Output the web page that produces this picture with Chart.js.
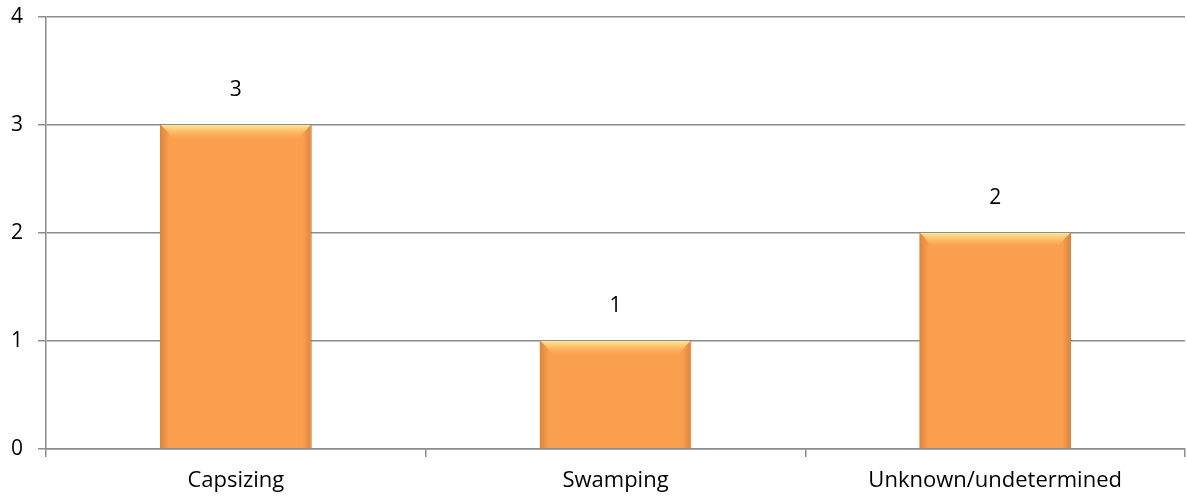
<!DOCTYPE html>
<html lang="en">
<head>
  <meta charset="UTF-8" />
  <title>Causes</title>
  <script src="https://cdn.jsdelivr.net/npm/chart.js"></script>
  <style>
    html, body { margin: 0; padding: 0; background: #fff; }
    #wrap { width: 1187px; height: 502px; }
  </style>
</head>
<body>
  <div id="wrap"><canvas id="grafico"></canvas></div>

  <script>
    const categorias = ["Capsizing", "Swamping", "Unknown/undetermined"];
    const valores = [3, 1, 2];
    const ticksY = [0, 1, 2, 3, 4];

    const FUENTE = "'Open Sans', Lato, sans-serif";

    // etiquetas de valor encima de cada barra
    const etiquetas = {
      id: "etiquetas",
      afterDatasetsDraw(chart) {
        const ctx = chart.ctx;
        const meta = chart.getDatasetMeta(0);
        ctx.save();
        ctx.font = "21px " + FUENTE;
        ctx.fillStyle = "#000";
        ctx.textAlign = "center";
        ctx.textBaseline = "middle";
        meta.data.forEach((bar, i) => {
          ctx.fillText(String(valores[i]), bar.x, bar.y - 35);
        });
        ctx.restore();
      }
    };

    // brillo superior tipo bisel
    const bisel = {
      id: "bisel",
      afterDatasetsDraw(chart) {
        const ctx = chart.ctx;
        chart.getDatasetMeta(0).data.forEach(bar => {
          const w = bar.width, l = bar.x - w / 2, r = bar.x + w / 2, t = bar.y;
          ctx.save();
          const g = ctx.createLinearGradient(0, t, 0, t + 14);
          g.addColorStop(0, "rgba(255,240,160,0.9)");
          g.addColorStop(1, "rgba(255,200,110,0)");
          ctx.fillStyle = g;
          ctx.beginPath();
          ctx.moveTo(l + 1, t);
          ctx.lineTo(r - 1, t);
          ctx.lineTo(r - 14, t + 14);
          ctx.lineTo(l + 14, t + 14);
          ctx.closePath();
          ctx.fill();
          ctx.restore();
        });
      }
    };

    function relleno(context) {
      const chart = context.chart;
      const x = chart.scales && chart.scales.x;
      if (!chart.chartArea || !x) return "#FA9F4E";
      const cx = x.getPixelForValue(context.dataIndex);
      const w = x.width / categorias.length * 0.4;
      if (!Number.isFinite(cx) || !Number.isFinite(w)) return "#FA9F4E";
      const g = chart.ctx.createLinearGradient(cx - w / 2, 0, cx + w / 2, 0);
      g.addColorStop(0, "#D9843E");
      g.addColorStop(0.06, "#FA9F4E");
      g.addColorStop(0.94, "#FA9F4E");
      g.addColorStop(1, "#D9843E");
      return g;
    }

    new Chart(document.getElementById("grafico").getContext("2d"), {
      type: "bar",
      data: {
        labels: categorias,
        datasets: [{
          data: valores,
          backgroundColor: relleno,
          borderColor: "#C8783A",
          borderWidth: { top: 0, left: 0, right: 1, bottom: 0 },
          categoryPercentage: 1,
          barPercentage: 0.4
        }]
      },
      options: {
        responsive: true,
        maintainAspectRatio: false,
        animation: false,
        layout: { padding: { top: 0, right: 2, left: 0, bottom: 0 } },
        plugins: { legend: { display: false }, tooltip: { enabled: false } },
        scales: {
          x: {
            afterFit(scale) { scale.height = 53; },
            grid: { drawOnChartArea: false, color: "#8C8C8C", lineWidth: 1.5, tickLength: 8, offset: true },
            border: { color: "#8C8C8C", width: 1.5 },
            ticks: { color: "#000", font: { family: FUENTE, size: 22, lineHeight: 1 }, padding: 13 }
          },
          y: {
            min: 0,
            max: 4,
            afterBuildTicks(scale) { scale.ticks = ticksY.map(v => ({ value: v })); },
            afterFit(scale) { scale.width = 46; scale.paddingTop = 17; },
            grid: { color: "#8C8C8C", lineWidth: 1.5, tickLength: 8 },
            border: { color: "#8C8C8C", width: 1.5 },
            ticks: { color: "#000", font: { family: FUENTE, size: 21, lineHeight: 1 }, padding: 15 }
          }
        }
      },
      plugins: [etiquetas, bisel]
    });
  </script>
</body>
</html>
